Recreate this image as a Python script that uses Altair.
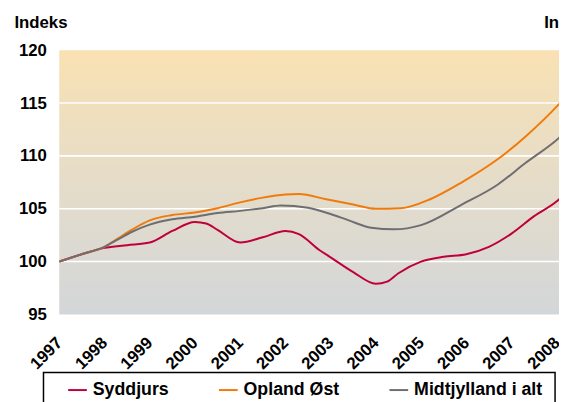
import altair as alt
import pandas as pd

FONT = "Liberation Sans"

series_names = ["Syddjurs", "Opland Øst", "Midtjylland i alt"]
series_colors = ["#C0003A", "#F07A0A", "#6E6E72"]

syd_x = [1997.0, 1997.5, 1998.0, 1998.5, 1999.0, 1999.5, 2000.0, 2000.25, 2000.5,
         2001.0, 2001.5, 2002.0, 2002.3, 2002.75, 2003.0, 2003.5, 2004.0, 2004.25,
         2004.5, 2005.0, 2005.5, 2006.0, 2006.5, 2007.0, 2007.5, 2008.0, 2008.2]
syd_y = [100.0, 100.7, 101.3, 101.55, 101.8, 102.9, 103.75, 103.6, 103.0,
         101.8, 102.3, 102.9, 102.6, 101.1, 100.4, 99.0, 97.9, 98.1,
         98.9, 100.0, 100.45, 100.7, 101.4, 102.65, 104.3, 105.7, 106.5]

opl_x = [1997.0, 1997.5, 1998.0, 1998.3, 1998.6, 1999.0, 1999.5, 2000.0, 2000.5,
         2001.0, 2001.5, 2002.0, 2002.3, 2002.9, 2003.5, 2004.0, 2004.55, 2005.2,
         2005.9, 2006.7, 2007.3, 2008.05, 2008.2]
opl_y = [100.0, 100.7, 101.4, 102.2, 103.0, 103.9, 104.4, 104.65, 105.05,
         105.6, 106.05, 106.35, 106.4, 105.9, 105.4, 105.0, 105.05, 105.9,
         107.5, 109.7, 111.8, 114.9, 115.6]

mid_x = [1997.0, 1997.5, 1998.0, 1998.3, 1998.6, 1999.0, 1999.5, 2000.0, 2000.5,
         2001.0, 2001.5, 2001.9, 2002.5, 2003.0, 2003.4, 2003.9, 2004.4, 2005.0,
         2005.9, 2006.7, 2007.3, 2008.05, 2008.2]
mid_y = [100.0, 100.7, 101.4, 102.1, 102.8, 103.5, 104.0, 104.25, 104.6,
         104.8, 105.05, 105.3, 105.1, 104.5, 103.9, 103.2, 103.05, 103.45,
         105.4, 107.3, 109.3, 111.7, 112.3]

grid_values = [100, 105, 110, 115]
y_ticks = [95, 100, 105, 110, 115, 120]
x_ticks = list(range(1997, 2009))

rows = []
for name, xs, ys in [(series_names[0], syd_x, syd_y),
                     (series_names[1], opl_x, opl_y),
                     (series_names[2], mid_x, mid_y)]:
    for a, b in zip(xs, ys):
        rows.append({"serie": name, "aar": a, "indeks": b})
df = pd.DataFrame(rows)
grid_df = pd.DataFrame({"v": grid_values})
one = pd.DataFrame({"k": [0]})

W, H = 507, 268

y_scale = alt.Scale(domain=[95, 120], nice=False, zero=False)
y_axis = alt.Axis(values=y_ticks, title="Indeks", titleAngle=0, titleAlign="left",
                  titleBaseline="alphabetic", titleX=-46, titleY=-23,
                  titleFont=FONT, titleFontSize=17, titleFontWeight="bold",
                  titleColor="black", labelFont=FONT, labelFontSize=17,
                  labelFontWeight="bold", labelColor="black", labelPadding=13,
                  ticks=False, domain=False, grid=False)
x_scale = alt.Scale(domain=[1997, 2008.05], nice=False, zero=False)
x_axis = alt.Axis(values=x_ticks, format="d", title=None, labelAngle=-45,
                  labelAlign="right", labelBaseline="middle", labelPadding=26,
                  labelFont=FONT, labelFontSize=17, labelFontWeight="bold",
                  labelColor="black", labelFlush=False, labelOverlap=False,
                  ticks=False, tickSize=0, domain=False, grid=False)

bg = alt.Chart(one).mark_rect(
    fill=alt.Gradient(gradient="linear", x1=0, y1=0, x2=0, y2=1,
                      stops=[alt.GradientStop(color="#F9E1B3", offset=0),
                             alt.GradientStop(color="#E3DCCB", offset=0.55),
                             alt.GradientStop(color="#D3D6D9", offset=1)])
).encode(x=alt.value(0), x2=alt.value(W), y=alt.value(0), y2=alt.value(H))

grid = alt.Chart(grid_df).mark_rule(color="white", strokeWidth=1.6).encode(
    x=alt.value(0), x2=alt.value(W),
    y=alt.Y("v:Q", scale=y_scale, axis=y_axis))

lines = alt.Chart(df).mark_line(strokeWidth=2, interpolate="monotone", clip=True).encode(
    x=alt.X("aar:Q", scale=x_scale, axis=x_axis),
    y=alt.Y("indeks:Q", scale=y_scale, axis=y_axis),
    color=alt.Color("serie:N",
                    scale=alt.Scale(domain=series_names, range=series_colors),
                    legend=alt.Legend(orient="none", legendX=8, legendY=334,
                                      direction="horizontal", title=None,
                                      symbolType="stroke", symbolStrokeWidth=2,
                                      symbolSize=361, labelFont=FONT,
                                      labelFontSize=18, labelFontWeight="bold",
                                      labelColor="black", columnPadding=46,
                                      labelOffset=5, padding=0)),
    order=alt.Order("aar:Q"))

right_title = alt.Chart(one).mark_text(
    text="Indeks", align="left", baseline="alphabetic", font=FONT,
    fontSize=17, fontWeight="bold", color="black"
).encode(x=alt.value(492), y=alt.value(-23))

legend_box = alt.Chart(one).mark_rect(fill="white", stroke="black", strokeWidth=1.5).encode(
    x=alt.value(-16), x2=alt.value(503), y=alt.value(327), y2=alt.value(372))

chart = alt.layer(bg, grid, legend_box, lines, right_title).properties(
    width=W, height=H,
    padding={"left": 52, "top": 40, "right": 0, "bottom": 86},
    autosize=alt.AutoSizeParams(type="none"),
    background="white",
).configure_view(stroke=None)

chart.save("out.html", embed_options={"renderer": "svg", "actions": False})
